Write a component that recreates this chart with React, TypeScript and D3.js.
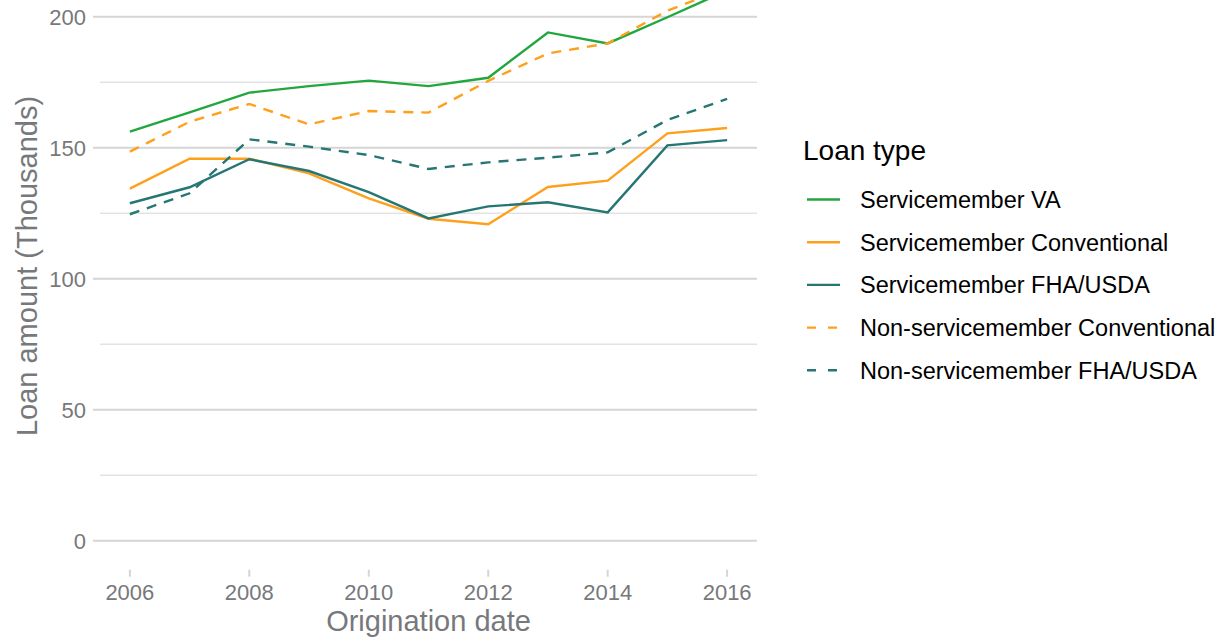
import React from 'react';
import * as d3 from 'd3';

const years = [2006, 2007, 2008, 2009, 2010, 2011, 2012, 2013, 2014, 2015, 2016];

const serviceVA = [156.1, 163.5, 171.0, 173.5, 175.6, 173.5, 176.7, 194.0, 189.8, 199.8, 210];
const serviceConv = [134.4, 145.8, 145.8, 140.2, 130.7, 122.9, 120.8, 135.0, 137.4, 155.5, 157.5];
const serviceFHA = [128.8, 134.9, 145.6, 141.1, 133.0, 123.0, 127.6, 129.2, 125.3, 150.9, 152.9];
const nonServiceConv = [148.5, 159.9, 166.7, 158.9, 164.0, 163.4, 175.5, 186.0, 189.8, 202.3, 211];
const nonServiceFHA = [124.6, 132.6, 153.2, 150.4, 147.2, 141.9, 144.4, 146.2, 148.2, 160.6, 168.6];

const seriesNames = [
    'Servicemember VA',
    'Servicemember Conventional',
    'Servicemember FHA/USDA',
    'Non-servicemember Conventional',
    'Non-servicemember FHA/USDA'
];

const xTicks = [2006, 2008, 2010, 2012, 2014, 2016];
const yMajorTicks = [0, 50, 100, 150, 200];
const yMinorTicks = [25, 75, 125, 175];

const GREEN = '#22a63e';
const GOLD = '#ffa01c';
const TEAL = '#267674';
const GRID = '#d5d5d5';
const AXIS_TEXT = '#77787b';
const FONT = '"Liberation Sans", Arial, sans-serif';

const series = [
    { name: seriesNames[0], values: serviceVA, color: GREEN, dashed: false },
    { name: seriesNames[1], values: serviceConv, color: GOLD, dashed: false },
    { name: seriesNames[2], values: serviceFHA, color: TEAL, dashed: false },
    { name: seriesNames[3], values: nonServiceConv, color: GOLD, dashed: true },
    { name: seriesNames[4], values: nonServiceFHA, color: TEAL, dashed: true }
];

const WIDTH = 1224;
const HEIGHT = 644;
const PANEL_LEFT = 100;
const PANEL_RIGHT = 757;

const x = d3.scaleLinear()
    .domain([2005.5, 2016.5])
    .range([PANEL_LEFT, PANEL_RIGHT]);

const y = d3.scaleLinear()
    .domain([0, 200])
    .range([540.7, 16.7]);

const line = d3.line<number>()
    .x((d, i) => x(years[i]))
    .y(d => y(d));

export default function App() {
    const tickTop = y(0) + 29;

    return (
        <svg width={WIDTH} height={HEIGHT}
            style={{ position: 'absolute', left: 0, top: 0, background: '#fff' }}
            fontFamily={FONT}>
            {/* grid */}
            {yMinorTicks.map(t => (
                <line key={'mn' + t} x1={PANEL_LEFT} x2={PANEL_RIGHT} y1={y(t)} y2={y(t)}
                    stroke={GRID} strokeWidth={1} />
            ))}
            {yMajorTicks.map(t => (
                <line key={'mj' + t} x1={PANEL_LEFT - 7} x2={PANEL_RIGHT} y1={y(t)} y2={y(t)}
                    stroke={GRID} strokeWidth={2} />
            ))}
            {yMajorTicks.map(t => (
                <text key={'yl' + t} x={86} y={y(t)} dy="0.36em" textAnchor="end"
                    fontSize={22} fill={AXIS_TEXT}>{t}</text>
            ))}
            {xTicks.map(t => (
                <g key={'xt' + t}>
                    <line x1={x(t)} x2={x(t)} y1={tickTop} y2={tickTop + 7}
                        stroke={GRID} strokeWidth={2} />
                    <text x={x(t)} y={tickTop + 30} textAnchor="middle"
                        fontSize={22} fill={AXIS_TEXT}>{t}</text>
                </g>
            ))}

            {/* lines */}
            {series.map(s => (
                <path key={s.name} d={line(s.values) || ''} fill="none"
                    stroke={s.color} strokeWidth={2.4}
                    strokeDasharray={s.dashed ? '10 8' : undefined} />
            ))}

            {/* axis titles */}
            <text x={(PANEL_LEFT + PANEL_RIGHT) / 2} y={631} textAnchor="middle"
                fontSize={29} fill={AXIS_TEXT}>Origination date</text>
            <text transform="translate(37,266) rotate(-90)" textAnchor="middle"
                fontSize={29} fill={AXIS_TEXT}>Loan amount (Thousands)</text>

            {/* legend */}
            <text x={803} y={160} fontSize={28} fill="#000">Loan type</text>
            {series.map((s, i) => {
                const ly = 199.5 + i * 42.7;
                return (
                    <g key={'lg' + s.name}>
                        <line x1={807} x2={840} y1={ly} y2={ly} stroke={s.color} strokeWidth={2.4}
                            strokeDasharray={s.dashed ? '9 12' : undefined} />
                        <text x={860} y={ly} dy="0.36em" fontSize={23.5} fill="#000">{s.name}</text>
                    </g>
                );
            })}
        </svg>
    );
}
